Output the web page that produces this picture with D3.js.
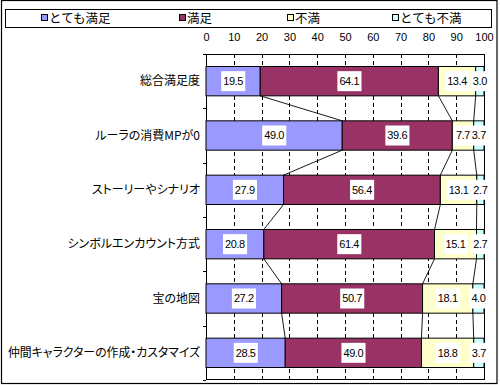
<!DOCTYPE html>
<html><head><meta charset="utf-8">
<script src="https://cdn.jsdelivr.net/npm/d3@7"></script>
<style>
html,body{margin:0;padding:0;background:#fff;}
svg{display:block;}
.cat{font-feature-settings:"palt";}
</style></head>
<body>
<svg id="chart" width="500" height="385"></svg>
<script>
const categories = ["総合満足度","ルーラの消費MPが0","ストーリーやシナリオ","シンボルエンカウント方式","宝の地図","仲間キャラクターの作成・カスタマイズ"];
const seriesNames = ["とても満足","満足","不満","とても不満"];
const verySatisfied = [19.5,49.0,27.9,20.8,27.2,28.5];
const satisfied = [64.1,39.6,56.4,61.4,50.7,49.0];
const dissatisfied = [13.4,7.7,13.1,15.1,18.1,18.8];
const veryDissatisfied = [3.0,3.7,2.7,2.7,4.0,3.7];
const xTicks = [0,10,20,30,40,50,60,70,80,90,100];
const colors = ["#9999FF","#993366","#FFFFCC","#CCFFFF"];

const series = [verySatisfied, satisfied, dissatisfied, veryDissatisfied];
const svg = d3.select("#chart");
const numFont = "'Liberation Sans', Arial, sans-serif";
const jpFont = "'Noto Sans CJK JP', sans-serif";

const x = d3.scaleLinear().domain([0,100]).range([206,484]).clamp(true);
const y = d3.scaleBand().domain(categories).range([54,380]).paddingInner(0.46).paddingOuter(0.23);

// outer frame
svg.append("rect").attr("x",1.5).attr("y",0.5).attr("width",495.5).attr("height",383)
  .attr("fill","#fff").attr("stroke","#000").attr("stroke-width",1.2);

// legend
svg.append("rect").attr("x",5.5).attr("y",9.5).attr("width",486).attr("height",18)
  .attr("fill","#fff").attr("stroke","#000");
const legX = [41,179,287,392];
seriesNames.forEach((n,i)=>{
  const g = svg.append("g").attr("transform",`translate(${legX[i]},18)`);
  g.append("rect").attr("x",0.5).attr("y",-3.5).attr("width",6).attr("height",6)
    .attr("fill",colors[i]).attr("stroke","#000");
  g.append("text").attr("x",8).attr("y",0).attr("dy","0.36em")
    .attr("font-family",jpFont).attr("font-size",12.5).text(n);
});

// gridlines
svg.append("g").selectAll("line").data(xTicks.filter(t=>t>0&&t<100)).join("line")
  .attr("x1",d=>Math.round(x(d))+0.5).attr("x2",d=>Math.round(x(d))+0.5)
  .attr("y1",54).attr("y2",379)
  .attr("stroke","#000").attr("stroke-dasharray","4,3");

// top axis labels
const xAxis = d3.axisTop(x).tickValues(xTicks).tickSize(0).tickPadding(0).tickFormat(d3.format("d"));
const ax = svg.append("g").attr("transform","translate(0,41)").call(xAxis);
ax.select(".domain").remove();
ax.selectAll("text").attr("font-family",numFont).attr("font-size",11).attr("fill","#000");

// plot border
svg.append("rect").attr("x",206.5).attr("y",54.5).attr("width",278).attr("height",325)
  .attr("fill","none").attr("stroke","#000");

// left ticks at category boundaries
const bounds = d3.range(categories.length+1).map(k=>54+k*(326/categories.length));
svg.append("g").selectAll("line").data(bounds).join("line")
  .attr("x1",203).attr("x2",206).attr("y1",d=>Math.round(d)+0.5).attr("y2",d=>Math.round(d)+0.5)
  .attr("stroke","#000");

// stacked data
const rows = categories.map((c,i)=>{
  let acc=0; const segs=[];
  series.forEach((s,k)=>{ segs.push({cat:c,k,v:s[i],x0:acc,x1:acc+s[i]}); acc+=s[i]; });
  return segs;
});

// connector lines
const conn = svg.append("g");
for(let i=0;i<categories.length-1;i++){
  for(let k=0;k<3;k++){
    const a = rows[i][k].x1, b = rows[i+1][k].x1;
    conn.append("line")
      .attr("x1",x(a)).attr("y1",y(categories[i])+y.bandwidth())
      .attr("x2",x(b)).attr("y2",y(categories[i+1]))
      .attr("stroke","#000").attr("stroke-width",0.9);
  }
}

// bars
const barG = svg.append("g");
rows.forEach(segs=>{
  barG.selectAll(null).data(segs).join("rect")
    .attr("x",d=>x(d.x0)).attr("width",d=>x(d.x1)-x(d.x0))
    .attr("y",d=>y(d.cat)).attr("height",y.bandwidth())
    .attr("fill",d=>colors[d.k]).attr("stroke","#000").attr("stroke-width",1);
});

// data labels
const lab = svg.append("g");
rows.forEach(segs=>{
  segs.forEach(d=>{
    const cx = (x(d.x0)+x(d.x1))/2;
    const cy = y(d.cat)+y.bandwidth()/2;
    const g = lab.append("g");
    const t = g.append("text").attr("x",cx).attr("y",cy).attr("dy","0.36em")
      .attr("text-anchor","middle").attr("font-family",numFont).attr("font-size",11)
      .attr("letter-spacing",-0.4).text(d.v.toFixed(1));
    const bb = t.node().getBBox();
    g.insert("rect","text").attr("x",bb.x-2).attr("y",cy-10).attr("width",bb.width+4).attr("height",20)
      .attr("fill","#fff");
  });
});

// category labels
const catT = svg.append("g").selectAll("text").data(categories).join("text")
  .attr("class","cat")
  .attr("x",200).attr("y",d=>y(d)+y.bandwidth()/2).attr("dy","0.36em")
  .attr("text-anchor","end").attr("font-family",jpFont).attr("font-size",12).text(d=>d);
catT.each(function(){
  const w = this.getComputedTextLength();
  if (w > 192) d3.select(this).attr("textLength",192).attr("lengthAdjust","spacingAndGlyphs");
});
</script>
</body></html>
